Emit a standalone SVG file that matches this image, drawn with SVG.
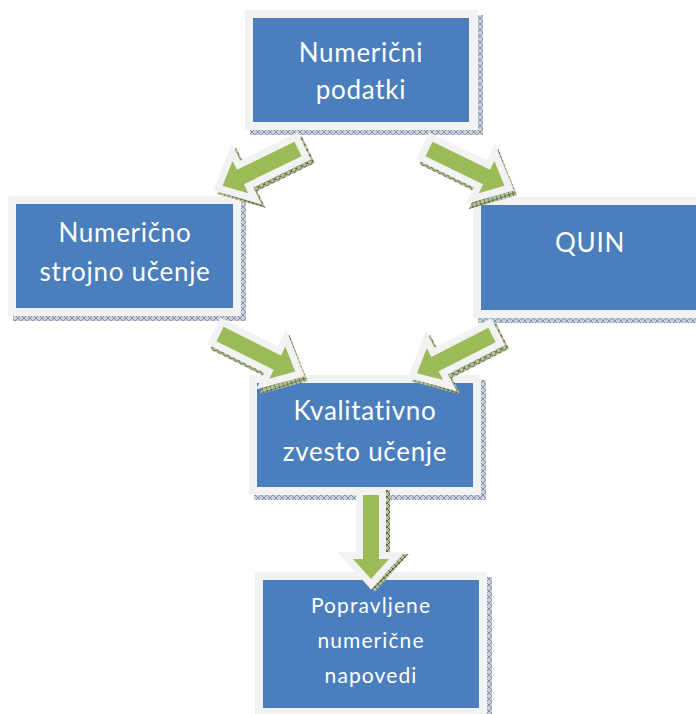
<svg xmlns="http://www.w3.org/2000/svg" width="696" height="714" viewBox="0 0 696 714">
  <defs>
    <!-- hatched drop-shadow fills -->
    <pattern id="hatchBlue" width="6" height="6" patternUnits="userSpaceOnUse">
      <rect width="6" height="6" fill="#c8d0db"/>
      <path d="M0 0L6 6M6 0L0 6" stroke="#8593a8" stroke-width="1"/>
    </pattern>
    <pattern id="hatchGreen" width="6" height="6" patternUnits="userSpaceOnUse">
      <rect width="6" height="6" fill="#b4c09a"/>
      <path d="M0 0L6 6M6 0L0 6" stroke="#5e6b45" stroke-width="1"/>
    </pattern>
    <!-- block arrow pointing along +x, tail at origin, length 84 -->
    <path id="arrowShape" d="M0,-8 L64,-8 L64,-18 L84,0 L64,18 L64,8 L0,8 Z"/>
  </defs>
  <style>
    .frame { fill: #f2f2f2; }
    .body { fill: #4a7ebd; }
    .shadow { fill: url(#hatchBlue); }
    .label { fill: #ffffff; font-family: Lato, "Open Sans", sans-serif; font-size: 26px; letter-spacing: 0.7px; text-anchor: middle; }
    .small { font-size: 21px; letter-spacing: 1.1px; }
    .ashadow { fill: url(#hatchGreen); stroke: url(#hatchGreen); stroke-width: 14; stroke-linejoin: miter; stroke-miterlimit: 3; }
    .aframe { fill: #f2f2f2; stroke: #f2f2f2; stroke-width: 14; stroke-linejoin: miter; stroke-miterlimit: 3; }
    .afill { fill: #9bbb59; }
  </style>

  <g id="node-numericni-podatki">
    <rect class="shadow" x="250" y="15" width="233" height="120"/>
    <rect class="frame" x="245" y="10" width="233" height="120"/>
    <rect class="body" x="253" y="18" width="216" height="104"/>
    <text class="label" x="361" y="62">Numerični</text>
    <text class="label" x="361" y="99">podatki</text>
  </g>

  <g id="node-numericno-strojno-ucenje">
    <rect class="shadow" x="13" y="201" width="233" height="120"/>
    <rect class="frame" x="8" y="196" width="233" height="120"/>
    <rect class="body" x="16" y="204" width="217" height="104"/>
    <text class="label" x="125" y="242">Numerično</text>
    <text class="label" x="125" y="281">strojno učenje</text>
  </g>

  <g id="node-quin">
    <rect class="shadow" x="478" y="202" width="233" height="121"/>
    <rect class="frame" x="473" y="197" width="233" height="121"/>
    <rect class="body" x="481" y="205" width="216" height="105"/>
    <text class="label" x="590" y="252" letter-spacing="2">QUIN</text>
  </g>

  <g id="node-kvalitativno-zvesto-ucenje">
    <rect class="shadow" x="254" y="380" width="232" height="120"/>
    <rect class="frame" x="249" y="375" width="232" height="120"/>
    <rect class="body" x="257" y="383" width="216" height="104"/>
    <text class="label" x="365" y="420">Kvalitativno</text>
    <text class="label" x="365" y="461">zvesto učenje</text>
  </g>

  <g id="node-popravljene-numericne-napovedi">
    <rect class="shadow" x="260" y="577" width="232" height="144"/>
    <rect class="frame" x="255" y="572" width="232" height="144"/>
    <rect class="body" x="263" y="580" width="216" height="128"/>
    <text class="label small" x="371" y="613">Popravljene</text>
    <text class="label small" x="371" y="648">numerične</text>
    <text class="label small" x="371" y="683">napovedi</text>
  </g>

  <g id="connectors">
    <!-- podatki -> strojno ucenje -->
    <g transform="translate(298,149) rotate(154)">
      <use href="#arrowShape" class="ashadow" transform="translate(-2,-5)"/>
      <use href="#arrowShape" class="aframe"/>
      <use href="#arrowShape" class="afill"/>
    </g>
    <!-- podatki -> QUIN -->
    <g transform="translate(429,149) rotate(26)">
      <use href="#arrowShape" class="ashadow" transform="translate(5,3)"/>
      <use href="#arrowShape" class="aframe"/>
      <use href="#arrowShape" class="afill"/>
    </g>
    <!-- strojno ucenje -> kvalitativno ucenje -->
    <g transform="translate(220,334) rotate(26.5)">
      <use href="#arrowShape" class="ashadow" transform="translate(5,3)"/>
      <use href="#arrowShape" class="aframe"/>
      <use href="#arrowShape" class="afill"/>
    </g>
    <!-- QUIN -> kvalitativno ucenje -->
    <g transform="translate(492,335) rotate(153)">
      <use href="#arrowShape" class="ashadow" transform="translate(-2,-5)"/>
      <use href="#arrowShape" class="aframe"/>
      <use href="#arrowShape" class="afill"/>
    </g>
    <!-- kvalitativno ucenje -> popravljene napovedi -->
    <g transform="translate(371,495) rotate(90)">
      <use href="#arrowShape" class="ashadow" transform="translate(2,-4)"/>
      <use href="#arrowShape" class="aframe"/>
      <use href="#arrowShape" class="afill"/>
    </g>
  </g>
</svg>
